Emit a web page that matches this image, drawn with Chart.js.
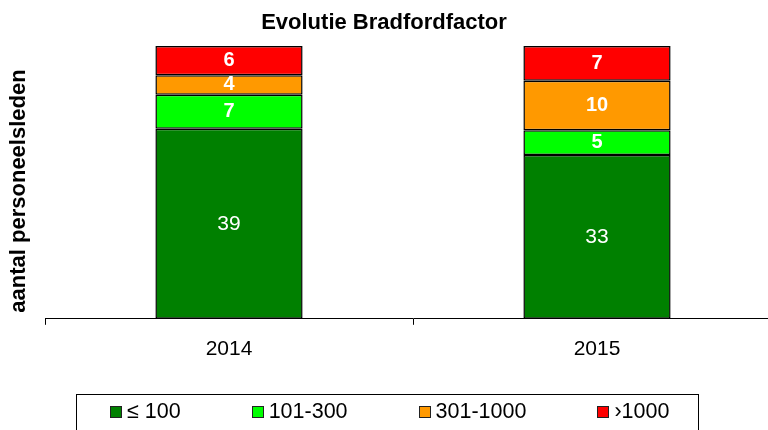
<!DOCTYPE html>
<html><head><meta charset="utf-8">
<script src="https://cdn.jsdelivr.net/npm/chart.js@4.4.1/dist/chart.umd.min.js"></script>
<style>html,body{margin:0;padding:0;background:#fff;overflow:hidden;width:768px;height:430px}#wrap{position:relative;width:781px;height:430px}</style>
</head><body><div id="wrap"><canvas id="c"></canvas></div>
<script>
const categories = ['2014', '2015'];
const seriesNames = ['≤ 100', '101-300', '301-1000', '›1000'];
const le100 = [39, 33];
const r101to300 = [7, 5];
const r301to1000 = [4, 10];
const gt1000 = [6, 7];
const seriesColors = ['#008000', '#00FF00', '#FF9900', '#FF0000'];
const chartTitle = 'Evolutie Bradfordfactor';
const yTitle = 'aantal personeelsleden';

const counts = [le100, r101to300, r301to1000, gt1000];
const totals = categories.map((_, i) => counts.reduce((s, a) => s + a[i], 0));
const FONT = "'Liberation Sans', Arial, Helvetica, sans-serif";
Chart.defaults.font.family = FONT;
Chart.defaults.color = '#000';

const datasets = counts.map((arr, k) => ({
  label: seriesNames[k],
  data: arr.map((v, i) => v / totals[i] * 100),
  backgroundColor: seriesColors[k],
  borderColor: '#000',
  borderWidth: 1.5,
  borderSkipped: false,
  barPercentage: 0.4,
  categoryPercentage: 1
}));

const valueLabels = {
  id: 'valueLabels',
  afterDatasetsDraw(chart) {
    const ctx = chart.ctx;
    ctx.save();
    ctx.fillStyle = '#fff';
    ctx.textAlign = 'center';
    ctx.textBaseline = 'middle';
    chart.data.datasets.forEach((ds, k) => {
      const meta = chart.getDatasetMeta(k);
      meta.data.forEach((el, i) => {
        ctx.font = (k === 0 ? 'normal 21px ' : 'bold 20px ') + FONT;
        ctx.fillText(String(counts[k][i]), el.x, (el.y + el.base) / 2);
      });
    });
    ctx.restore();
  }
};

const titles = {
  id: 'titles',
  afterDraw(chart) {
    const ctx = chart.ctx;
    ctx.save();
    ctx.fillStyle = '#000';
    ctx.textAlign = 'center';
    ctx.textBaseline = 'middle';
    ctx.font = 'bold 22px ' + FONT;
    ctx.fillText(chartTitle, 384, 23);
    ctx.translate(19, 191);
    ctx.rotate(-Math.PI / 2);
    ctx.font = 'bold 22px ' + FONT;
    ctx.fillText(yTitle, 0, 0);
    ctx.restore();
  }
};

const boxLegend = {
  id: 'boxLegend',
  afterDraw(chart) {
    const ctx = chart.ctx;
    const o = {font: '21.5px ' + FONT, box: 12, gap: 5, spacing: 71, centerX: 390, y: 412,
               frame: {left: 76.5, right: 698.5, top: 394.5, bottom: 460}};
    ctx.save();
    ctx.font = o.font;
    const items = chart.data.datasets.map(ds => ({text: ds.label, color: ds.backgroundColor, w: ctx.measureText(ds.label).width}));
    const total = items.reduce((s, it) => s + o.box + o.gap + it.w, 0) + o.spacing * (items.length - 1);
    let x = Math.round(o.centerX - total / 2);
    ctx.strokeStyle = '#000';
    ctx.lineWidth = 1;
    ctx.strokeRect(o.frame.left, o.frame.top, o.frame.right - o.frame.left, o.frame.bottom - o.frame.top);
    items.forEach(it => {
      const bx = Math.round(x);
      ctx.fillStyle = it.color;
      ctx.fillRect(bx, o.y - o.box / 2, o.box, o.box);
      ctx.strokeStyle = '#222';
      ctx.strokeRect(bx + 0.5, o.y - o.box / 2 + 0.5, o.box - 1, o.box - 1);
      ctx.fillStyle = '#000';
      ctx.textAlign = 'left';
      ctx.textBaseline = 'middle';
      ctx.fillText(it.text, x + o.box + o.gap, o.y);
      x += o.box + o.gap + it.w + o.spacing;
    });
    ctx.restore();
  }
};

new Chart(document.getElementById('c'), {
  type: 'bar',
  data: {labels: categories, datasets},
  plugins: [valueLabels, titles, boxLegend],
  options: {
    responsive: true,
    maintainAspectRatio: false,
    animation: false,
    devicePixelRatio: 1,
    layout: {padding: {left: 45, right: 0, top: 46, bottom: 56}},
    plugins: {
      legend: {display: false},
      tooltip: {enabled: false},
      title: {display: false}
    },
    scales: {
      x: {
        stacked: true,
        grid: {display: true, drawOnChartArea: false, drawTicks: true, tickLength: 6, color: '#000', offset: true},
        border: {display: true, color: '#000', width: 1},
        ticks: {font: {size: 21}, color: '#000', padding: 12}
      },
      y: {
        stacked: true, min: 0, max: 100,
        display: false
      }
    }
  }
});
</script></body></html>
